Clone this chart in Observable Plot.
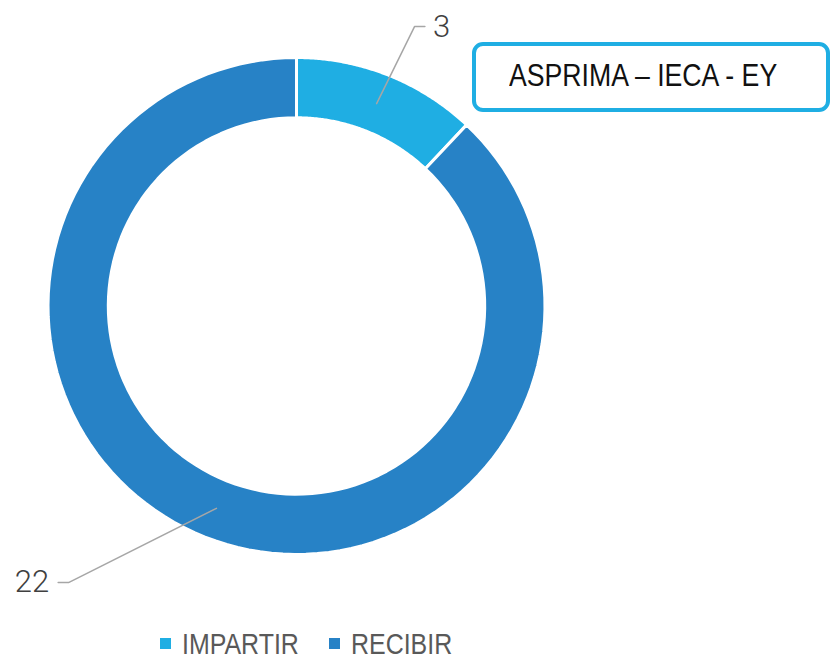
<!DOCTYPE html>
<html>
<head>
<meta charset="utf-8">
<script src="https://cdn.jsdelivr.net/npm/d3@7"></script>
<script src="https://cdn.jsdelivr.net/npm/@observablehq/plot@0.6"></script>
<style>
  html, body { margin: 0; padding: 0; background: #fff; }
  #wrap { position: relative; width: 831px; height: 660px; overflow: hidden; }
  #title {
    position: absolute; left: 472px; top: 42px; width: 350px; height: 62px;
    border: 4px solid #1FAEE3; border-radius: 11px; background: #fff;
    font-family: "Liberation Sans Narrow", "Arial Narrow", "Liberation Sans", sans-serif;
    font-size: 31px; color: #111;
    box-sizing: content-box;
  }
  #title span { position: absolute; left: 33px; top: 14px; line-height: 1; white-space: nowrap;
    transform: scaleX(0.86); transform-origin: 0 50%; }
  #legend {
    position: absolute; left: 0; top: 618px; width: 831px; height: 42px;
    font-family: "Liberation Sans Narrow", "Arial Narrow", "Liberation Sans", sans-serif;
    font-size: 29px; color: #595959;
  }
  .item { position: absolute; top: 12px; line-height: 1; white-space: nowrap; }
  .sw { display: inline-block; width: 11px; height: 11px; margin-right: 11px; vertical-align: 5px; }
  .lt { display: inline-block; transform: scaleX(0.86); transform-origin: 0 50%; }
</style>
</head>
<body>
<div id="wrap">
  <div id="chart"></div>
  <div id="title"><span></span></div>
  <div id="legend"></div>
</div>
<script>
// ---- data ----
const categories = ["IMPARTIR", "RECIBIR"];
const values = [3, 22];
const colors = ["#1FAEE3", "#2782C6"];
const titleText = "ASPRIMA – IECA - EY";

// ---- layout ----
const W = 831, H = 612;
const cx = 296, cy = 305.5, R = 247;          // pixel centre & radius
const innerRatio = 0.762;
const labelLayout = [                          // elbow of leader line in polar units (angle clockwise from top)
  { r: 1.228, angle: 22.9, dir: 1 },
  { r: 1.451, angle: 219.5, dir: -1 }
];
const tail = 0.042;

const rows = categories.map((c, i) => ({ label: c, value: values[i] }));
const pie = d3.pie().sort(null).value(d => d.value)(rows);

// ring polygons
const pts = [];
pie.forEach(s => {
  const n = 120;
  const a0 = s.startAngle, a1 = s.endAngle;
  for (let k = 0; k <= n; k++) {
    const a = a0 + (a1 - a0) * k / n;
    pts.push({ label: s.data.label, x: 1.006 * Math.sin(a), y: 1.006 * Math.cos(a) });
  }
  for (let k = n; k >= 0; k--) {
    const a = a0 + (a1 - a0) * k / n;
    pts.push({ label: s.data.label, x: innerRatio * Math.sin(a), y: innerRatio * Math.cos(a) });
  }
});

// leader lines & labels
const leaders = [];
const labels = [];
pie.forEach((s, i) => {
  const mid = (s.startAngle + s.endAngle) / 2;
  const rm = (1 + innerRatio) / 2;
  const L = labelLayout[i];
  const ea = L.angle * Math.PI / 180;
  const ex = L.r * Math.sin(ea), ey = L.r * Math.cos(ea);
  leaders.push({ id: i, x: rm * Math.sin(mid), y: rm * Math.cos(mid) });
  leaders.push({ id: i, x: ex, y: ey });
  leaders.push({ id: i, x: ex + L.dir * tail, y: ey });
  labels.push({ text: String(s.data.value), x: ex + L.dir * tail, y: ey, anchor: L.dir > 0 ? "start" : "end" });
});

const xDomain = [-cx / R, (W - cx) / R];
const yDomain = [-(H - cy) / R, cy / R];

const chart = Plot.plot({
  width: W, height: H,
  margin: 0,
  x: { domain: xDomain, range: [0, W], axis: null },
  y: { domain: yDomain, range: [H, 0], axis: null },
  color: { domain: categories, range: colors },
  style: { background: "#fff" },
  marks: [
    Plot.line(pts, { x: "x", y: "y", z: "label", fill: "label", stroke: "#fff", strokeWidth: 3, curve: "linear-closed" }),
    Plot.line(leaders, { x: "x", y: "y", z: "id", stroke: "#A6A6A6", strokeWidth: 1.5 }),
    Plot.text(labels.filter(d => d.anchor === "start"), { x: "x", y: "y", text: "text", textAnchor: "start", dx: 8, fontSize: 31, fill: "#404040", fontFamily: "Roboto, 'Liberation Sans', sans-serif", fontWeight: 300 }),
    Plot.text(labels.filter(d => d.anchor === "end"), { x: "x", y: "y", text: "text", textAnchor: "end", dx: -9, fontSize: 31, fill: "#404040", fontFamily: "Roboto, 'Liberation Sans', sans-serif", fontWeight: 300 })
  ]
});
document.getElementById("chart").appendChild(chart);
document.querySelector("#title span").textContent = titleText;

// legend
const legend = document.getElementById("legend");
const legendX = [160, 329];
categories.forEach((c, i) => {
  const it = document.createElement("div");
  it.className = "item";
  it.style.left = legendX[i] + "px";
  it.innerHTML = `<span class="sw" style="background:${colors[i]}"></span><span class="lt">${c}</span>`;
  legend.appendChild(it);
});
</script>
</body>
</html>
